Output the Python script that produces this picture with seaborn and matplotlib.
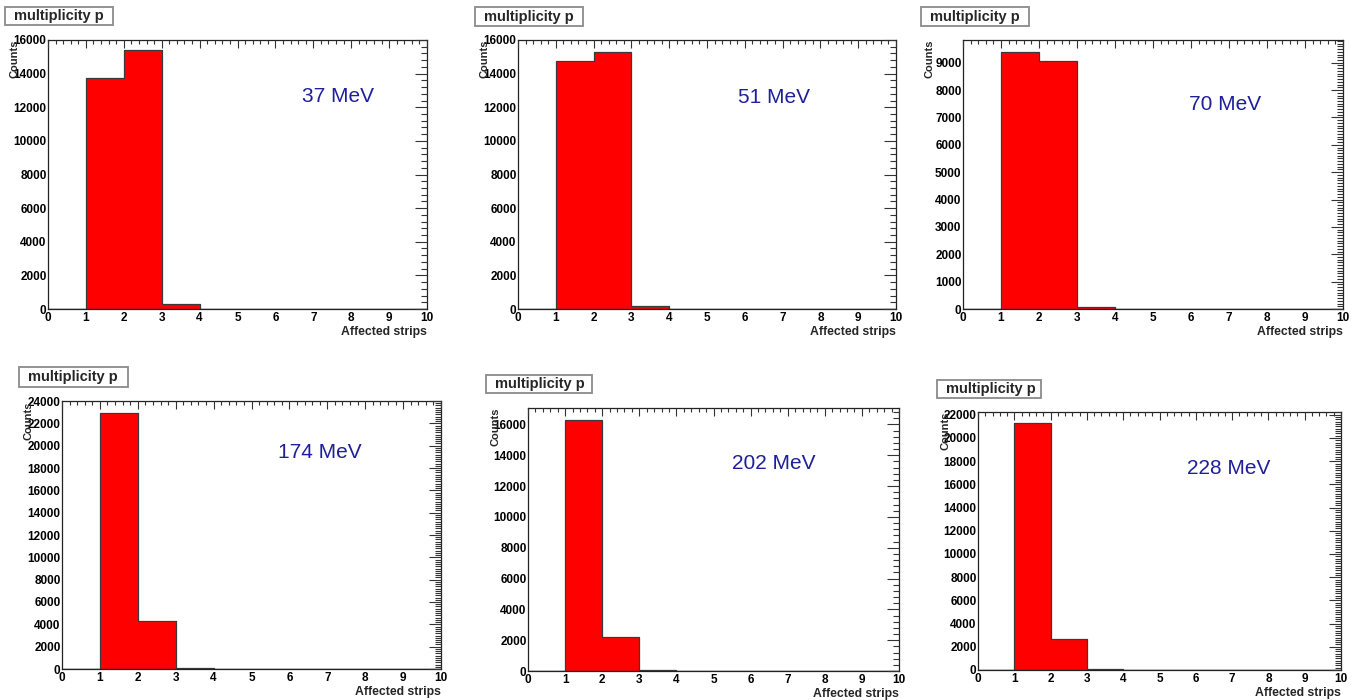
import numpy as np
import seaborn as sns
import matplotlib.pyplot as plt
from matplotlib.patches import Rectangle
from matplotlib.ticker import MultipleLocator, AutoMinorLocator

# histogram content: bins [1,2), [2,3), [3,4)
strip_centres = [1.5, 2.5, 3.5]
bin_edges = list(range(0, 11))
energies = ["37 MeV", "51 MeV", "70 MeV", "174 MeV", "202 MeV", "228 MeV"]
counts_37 = [13750, 15400, 280]
counts_51 = [14730, 15310, 180]
counts_70 = [9380, 9075, 85]
counts_174 = [22930, 4260, 60]
counts_202 = [16300, 2205, 65]
counts_228 = [21290, 2640, 90]
all_counts = [counts_37, counts_51, counts_70, counts_174, counts_202, counts_228]
y_max = [16000, 16000, 9830, 24000, 17060, 22240]
y_step = [2000, 2000, 1000, 2000, 2000, 2000]
y_minor = [5, 5, 10, 10, 5, 10]

sns.set_theme(style="white")
plt.rcParams["font.family"] = ["Liberation Sans", "DejaVu Sans"]

W, H = 1363, 700
fig = plt.figure(figsize=(W / 100, H / 100), dpi=100)

# pixel boxes: axes (left, right, top, bottom), title pave (x0, x1, y0, y1), label pos
axes_px = [(48, 427, 40, 309), (518, 896, 40, 309), (963, 1343, 40, 309),
           (62, 441, 401, 669), (528, 899, 408, 671), (978, 1341, 412, 670)]
pave_px = [(5, 113, 7, 25), (475, 583, 7, 26), (921, 1029, 7, 26),
           (19, 128, 367, 387), (486, 592, 375, 393), (937, 1041, 380, 398)]
label_pos = [(0.765, 0.79), (0.677, 0.785), (0.69, 0.762),
             (0.68, 0.806), (0.663, 0.79), (0.69, 0.78)]

for i in range(6):
    l, r, t, b = axes_px[i]
    ax = fig.add_axes([l / W, 1 - b / H, (r - l) / W, (b - t) / H])
    sns.histplot(x=strip_centres, weights=all_counts[i], bins=bin_edges,
                 element="step", fill=True, color="#ff0000", alpha=1,
                 edgecolor="#3a3a3a", linewidth=0.9, ax=ax)
    ax.set_xlim(0, 10)
    ax.set_ylim(0, y_max[i])
    ax.xaxis.set_major_locator(MultipleLocator(1))
    ax.xaxis.set_minor_locator(AutoMinorLocator(5))
    ax.yaxis.set_major_locator(MultipleLocator(y_step[i]))
    ax.yaxis.set_minor_locator(AutoMinorLocator(y_minor[i]))
    ax.tick_params(which="both", direction="in", top=True, right=True,
                   color="#333333", width=0.8, labelsize=8.5, labelcolor="black")
    ax.tick_params(axis="x", which="major", length=5.8, pad=2.5)
    ax.tick_params(axis="x", which="minor", length=2.9)
    ax.tick_params(axis="y", which="major", length=8.6, pad=1)
    ax.tick_params(axis="y", which="minor", length=4.3)
    for lab in ax.get_xticklabels() + ax.get_yticklabels():
        lab.set_fontweight("bold")
    for sp in ax.spines.values():
        sp.set_color("#222222")
        sp.set_linewidth(0.9)
        sp.set_visible(True)
    ax.set_axisbelow(False)
    ax.set_xlabel("Affected strips", loc="right", fontsize=8.8,
                  fontweight="bold", labelpad=1)
    ax.set_ylabel("Counts", loc="top", fontsize=8, fontweight="bold")
    ax.yaxis.set_label_coords(-0.075, 1.0)
    ax.grid(False)
    ax.text(label_pos[i][0], label_pos[i][1], energies[i], transform=ax.transAxes,
            ha="center", va="center", fontsize=15, color="#1f1f9c")

    x0, x1, y0, y1 = pave_px[i]
    fig.add_artist(Rectangle((x0 / W, 1 - y1 / H), (x1 - x0) / W, (y1 - y0) / H,
                             transform=fig.transFigure, facecolor="white",
                             edgecolor="#8a8a8a", linewidth=1.3))
    fig.text((x0 + 9) / W, 1 - (y0 + y1) / 2 / H, "multiplicity p",
             ha="left", va="center", fontsize=10.5, fontweight="bold")

fig.savefig("out.png", dpi=100)
